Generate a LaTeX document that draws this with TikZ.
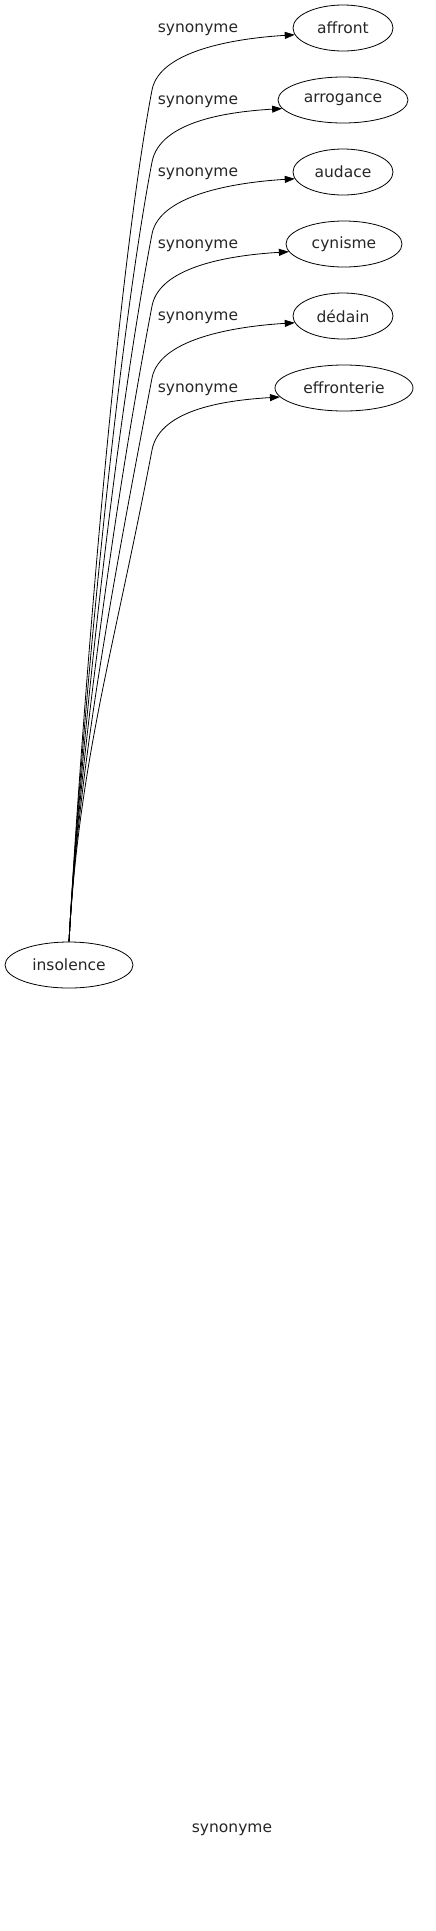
\documentclass[tikz,border=0pt]{standalone}
\usepackage{fontspec}
\setmainfont{DejaVu Sans}
\usetikzlibrary{arrows.meta,shapes.geometric}

\begin{document}
\begin{tikzpicture}[x=1pt,y=-1pt,
    every node/.style={font=\fontsize{15.5}{18}\selectfont,text=black!85},
    word/.style={draw=black,ellipse,line width=0.8pt,minimum height=46pt,inner sep=0pt},
    link/.style={-{Triangle[length=10pt,width=7pt]},line width=0.8pt}]
  \useasboundingbox (0,0) rectangle (436,1931);

  \node[word,minimum width=128pt] (insolence) at (69,965) {insolence};
  \node[word,minimum width=100pt] (affront) at (343,28) {affront};
  \node[word,minimum width=130pt] (arrogance) at (343,100) {arrogance};
  \node[word,minimum width=100pt] (audace) at (343,172) {audace};
  \node[word,minimum width=116pt] (cynisme) at (344,244) {cynisme};
  \node[word,minimum width=100pt] (dedain) at (343,316) {dédain};
  \node[word,minimum width=138pt] (effronterie) at (344,388) {effronterie};

  % one edge and one label per synonym
  \foreach \n/\y in {affront/28,arrogance/100,audace/172,cynisme/244,dedain/316,effronterie/388} {
    \draw[link] (insolence.north) .. controls (79,760) and (114,\y+262) .. (152,\y+62)
      .. controls (160,\y+20) and ([shift={(-50,3)}]\n.188) .. (\n.188);
    \node (lab-\n) at (198,\y+2) {synonyme};
  }

  \node (lab-stray) at (232,1830) {synonyme};
\end{tikzpicture}
\end{document}
